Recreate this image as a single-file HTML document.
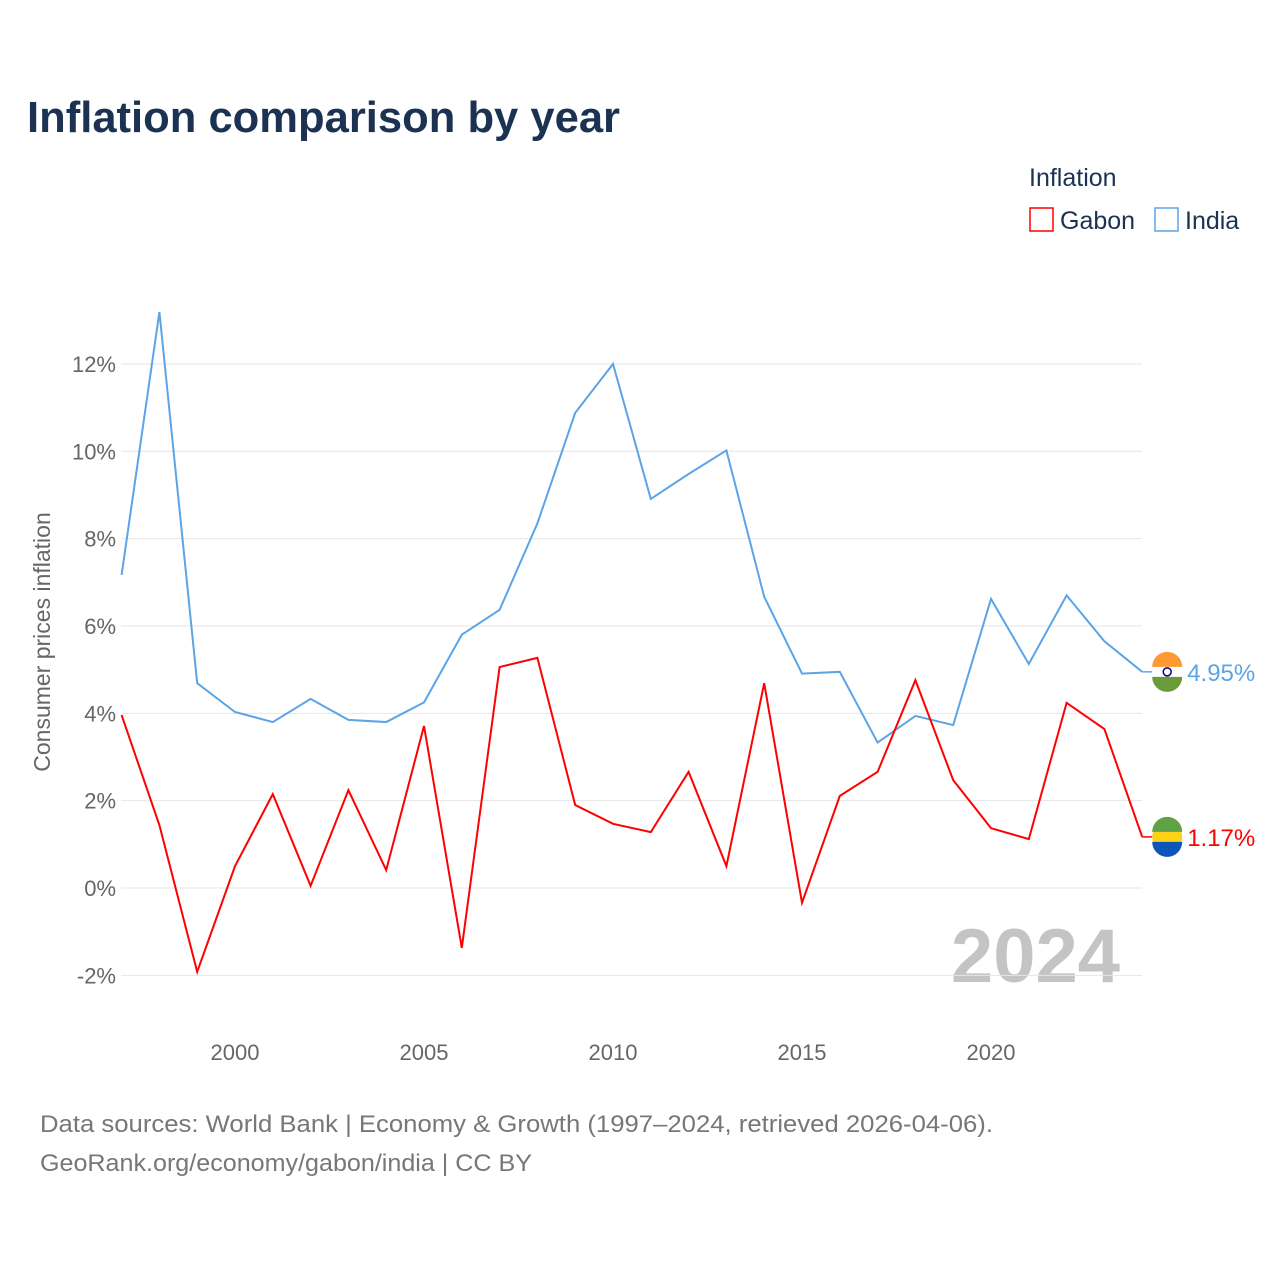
<!DOCTYPE html>
<html><head><meta charset="utf-8">
<style>
body{margin:0;background:#fff;font-family:"Liberation Sans",sans-serif;}
svg text{font-family:"Liberation Sans",sans-serif;}
</style></head>
<body>
<svg id="chart" width="1280" height="1280" xmlns="http://www.w3.org/2000/svg">
<rect width="1280" height="1280" fill="#fff"/>
<text x="27" y="132" font-size="44" font-weight="bold" fill="#1b3252" textLength="593" lengthAdjust="spacingAndGlyphs">Inflation comparison by year</text>
<text x="1029" y="186" font-size="25" fill="#1b3252">Inflation</text>
<g>
<rect x="1030" y="208" width="23" height="23" fill="none" stroke="#f00" stroke-width="1.5"/>
<text x="1060" y="229" font-size="25" fill="#1b3252">Gabon</text></g>
<g>
<rect x="1155" y="208" width="23" height="23" fill="none" stroke="#5ba4e6" stroke-width="1.5"/>
<text x="1185" y="229" font-size="25" fill="#1b3252">India</text></g>
<text transform="translate(50,642) rotate(-90)" text-anchor="middle" font-size="23" fill="#666">Consumer prices inflation</text>
<text x="1120" y="982" text-anchor="end" font-size="76" font-weight="bold" fill="#c4c4c4">2024</text>
<g id="grid"></g><g id="lines"></g><g id="ends"></g>
<text x="40" y="1132" font-size="24" fill="#777" textLength="953" lengthAdjust="spacingAndGlyphs">Data sources: World Bank | Economy &amp; Growth (1997–2024, retrieved 2026-04-06).</text>
<text x="40" y="1171" font-size="24" fill="#777" textLength="492" lengthAdjust="spacingAndGlyphs">GeoRank.org/economy/gabon/india | CC BY</text>
</svg>
<script>
const years=[1997,1998,1999,2000,2001,2002,2003,2004,2005,2006,2007,2008,2009,2010,2011,2012,2013,2014,2015,2016,2017,2018,2019,2020,2021,2022,2023,2024];
const india=[7.17,13.19,4.69,4.03,3.80,4.33,3.85,3.80,4.25,5.80,6.37,8.35,10.88,12.0,8.91,9.48,10.02,6.67,4.91,4.95,3.33,3.94,3.73,6.62,5.13,6.70,5.65,4.95];
const gabon=[3.96,1.44,-1.92,0.5,2.15,0.05,2.24,0.41,3.71,-1.37,5.06,5.27,1.90,1.47,1.28,2.66,0.5,4.69,-0.34,2.11,2.66,4.76,2.47,1.37,1.12,4.24,3.64,1.17];
const yTicks=[-2,0,2,4,6,8,10,12];
const xTicks=[2000,2005,2010,2015,2020];
const NS="http://www.w3.org/2000/svg";
const xs=y=>121.6+(y-1997)*37.8;
const ys=v=>888-v*43.67;
function mk(tag,attrs,parent){const e=document.createElementNS(NS,tag);for(const k in attrs)e.setAttribute(k,attrs[k]);parent.appendChild(e);return e;}
const grid=document.getElementById('grid'),lines=document.getElementById('lines'),ends=document.getElementById('ends');
yTicks.forEach(t=>{
 const l=mk('line',{x1:121,x2:1142,y1:ys(t),y2:ys(t),stroke:'#e6e6e6','stroke-width':1},grid);
 
 
 const tx=mk('text',{x:116,y:ys(t)+8,'text-anchor':'end','font-size':22,fill:'#666'},grid);
 tx.textContent=t+'%';
 
 
});
xTicks.forEach(t=>{
 const tx=mk('text',{x:xs(t),y:1060,'text-anchor':'middle','font-size':22,fill:'#666'},grid);
 tx.textContent=t;
 
 
});
function series(data,color,name){
 const p=mk('polyline',{points:data.map((v,i)=>xs(years[i])+','+ys(v)).join(' '),fill:'none',stroke:color,'stroke-width':2,'stroke-linejoin':'miter'},lines);
 
 
 const last=data[data.length-1],lx=xs(years[years.length-1]),ly=ys(last);
 mk('line',{x1:lx,x2:lx+10,y1:ly,y2:ly,stroke:color,'stroke-width':1.5},ends);
 const g=mk('g',{},ends);
 
 
 const cx=lx+25;
 if(name==='india'){
  mk('circle',{cx:cx,cy:ly,r:15,fill:'#fff'},g);
  mk('path',{d:`M${cx-15},${ly-5} A15,15 0 0 1 ${cx+15},${ly-5} Z`,fill:'#ff9933'},g);
  mk('path',{d:`M${cx-15},${ly+5} A15,15 0 0 0 ${cx+15},${ly+5} Z`,fill:'#6a9a3a'},g);
  mk('circle',{cx:cx,cy:ly,r:4,fill:'none',stroke:'#000080','stroke-width':1.5},g);
 }else{
  mk('circle',{cx:cx,cy:ly,r:15,fill:'#fcd116'},g);
  mk('path',{d:`M${cx-15},${ly-5} A15,15 0 0 1 ${cx+15},${ly-5} Z`,fill:'#5fa346'},g);
  mk('path',{d:`M${cx-15},${ly+5} A15,15 0 0 0 ${cx+15},${ly+5} Z`,fill:'#0b56b8'},g);
 }
 const t=mk('text',{x:lx+45,y:ly+9,'font-size':24,fill:color},ends);
 t.textContent=last.toFixed(2)+'%';
 
 
}
series(india,'#5ba4e6','india');
series(gabon,'#f00','gabon');
</script>
</body></html>
